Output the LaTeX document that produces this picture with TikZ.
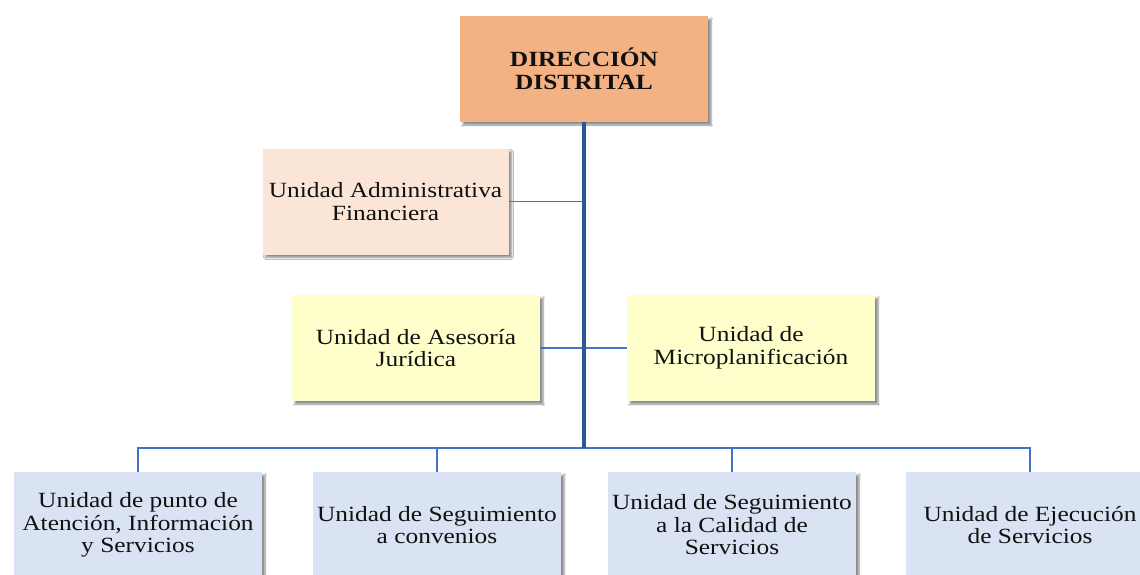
\documentclass[tikz,border=0pt]{standalone}
\usepackage{fontspec}
\setmainfont{Liberation Serif}[FakeStretch=1.17]
\usetikzlibrary{shadows.blur}
\definecolor{dirfill}{HTML}{F4B183}
\definecolor{uaffill}{HTML}{FBE5D6}
\definecolor{yelfill}{HTML}{FFFFCC}
\definecolor{bluefill}{HTML}{DAE3F3}
\definecolor{trunkcol}{HTML}{2F5597}
\definecolor{branchcol}{HTML}{4472C4}
\definecolor{txt}{HTML}{111111}
\tikzset{
  unitbox/.style={rectangle, minimum width=248pt, minimum height=106pt, inner sep=0pt,
    align=center, text=txt, font=\fontsize{21.7}{22.5}\selectfont,
    blur shadow={shadow xshift=3pt, shadow yshift=-3pt, shadow blur steps=6, shadow opacity=45}},
  dirbox/.style={unitbox, fill=dirfill, font=\fontsize{21.7}{23}\selectfont\bfseries},
  uafbox/.style={unitbox, fill=uaffill, minimum width=246pt},
  yelbox/.style={unitbox, fill=yelfill},
  bluebox/.style={unitbox, fill=bluefill},
  trunk/.style={draw=trunkcol, line width=3.5pt},
  branch/.style={draw=branchcol, line width=1.6pt},
}
\begin{document}
\begin{tikzpicture}[x=1pt, y=-1pt]
\clip (0,0) rectangle (1140,575);
\fill[white] (0,0) rectangle (1140,575);
\coordinate (bus) at (584,448);
\node[dirbox] (dir) at (584,69) {DIRECCIÓN\\DISTRITAL};
\node[uafbox] (uaf) at (385.5,201.5) {Unidad Administrativa\\Financiera};
\node[yelbox] (ase) at (416,348) {Unidad de Asesoría\\Jurídica};
\node[yelbox] (mic) at (751,348) {Unidad de\\Microplanificación};
\node[bluebox] (b1) at (138,525) {Unidad de punto de\\Atención, Información\\y Servicios};
\node[bluebox] (b2) at (437,525) {Unidad de Seguimiento\\a convenios};
\node[bluebox] (b3) at (732,525) {Unidad de Seguimiento\\a la Calidad de\\Servicios};
\node[bluebox] (b4) at (1030,525) {Unidad de Ejecución\\de Servicios};
\draw[branch] (uaf.east) -- (uaf.east -| dir.south);
\draw[branch] (ase.east) -- (mic.west);
\draw[branch] (b1.north) |- (b4.north |- bus) -- (b4.north);
\draw[branch] (b2.north) -- (b2.north |- bus);
\draw[branch] (b3.north) -- (b3.north |- bus);
\draw[trunk] (dir.south) -- (bus);
\end{tikzpicture}
\end{document}
